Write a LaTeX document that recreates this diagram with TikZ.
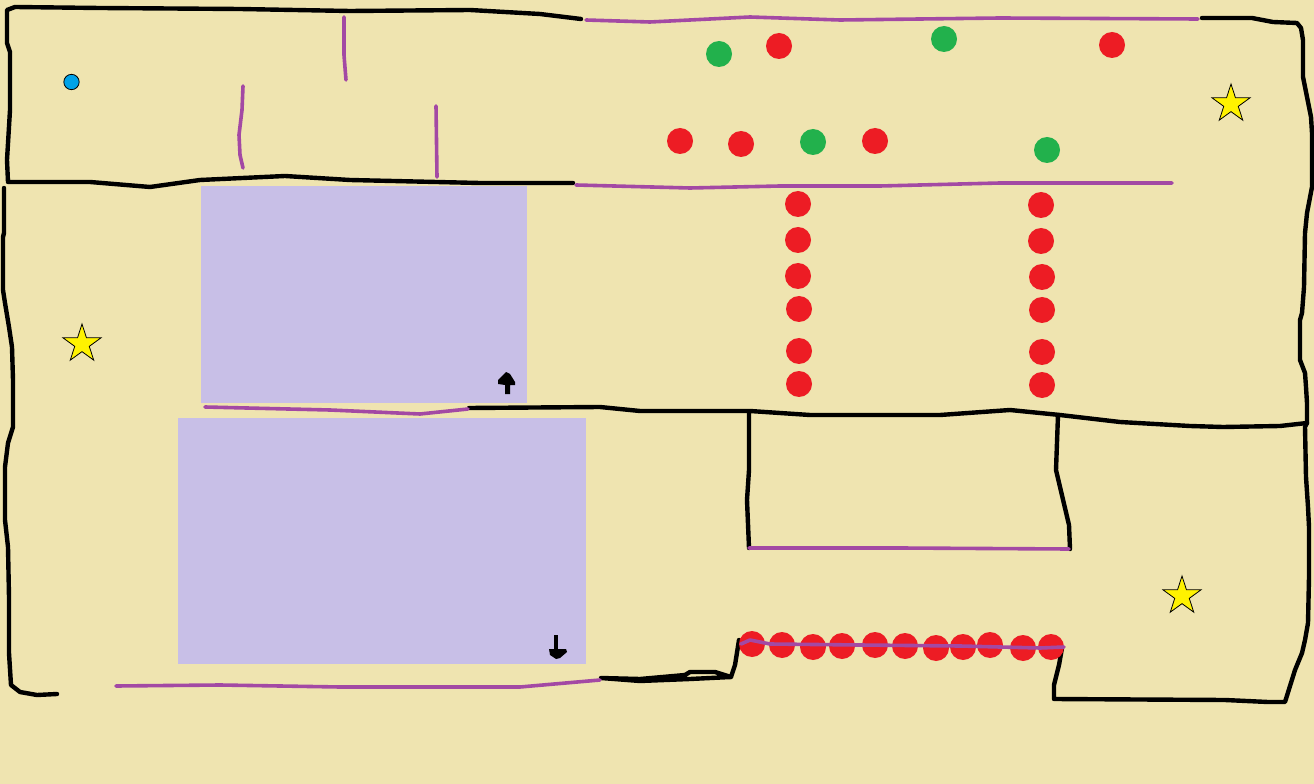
\documentclass[tikz,border=0pt]{standalone}
\usetikzlibrary{shapes.geometric}
\definecolor{bgc}{HTML}{EFE4B0}
\definecolor{lav}{HTML}{C8BFE7}
\definecolor{pur}{HTML}{A349A4}
\definecolor{redd}{HTML}{ED1C24}
\definecolor{grn}{HTML}{22B14C}
\definecolor{blu}{HTML}{00A2E8}
\definecolor{yel}{HTML}{FFF200}
\tikzset{
  wall/.style={draw=black,line width=3.3pt,line cap=round,line join=round},
  pline/.style={draw=pur,line width=2.7pt,line cap=round,line join=round},
  room/.style={fill=lav,draw=none},
  rdot/.style={circle,fill=redd,draw=none,minimum size=19.5pt,inner sep=0pt},
  gdot/.style={circle,fill=grn,draw=none,minimum size=19.5pt,inner sep=0pt},
  bdot/.style={circle,fill=blu,draw=black,line width=0.6pt,minimum size=11.5pt,inner sep=0pt},
  sstar/.style={star,star points=5,star point ratio=2.62,fill=yel,draw=black,line width=0.6pt,minimum size=30pt,inner sep=0pt}
}
\begin{document}
\begin{tikzpicture}[x=0.75pt,y=-0.75pt]
\useasboundingbox (0,0) rectangle (1314,784);
\fill[bgc] (0,0) rectangle (1314,784);
% rooms
\fill[room] (201,186) rectangle (527,403);
\fill[room] (178,418) rectangle (586,664);
% black walls
\draw[wall] (581,19) -- (540,14) -- (470,10) -- (350,11) -- (240,9) -- (100,8) -- (15,7) -- (7,10) -- (7,43) -- (10,52) -- (10,110) -- (7,160) -- (8,182) -- (90,182) -- (150,187) -- (200,180) -- (285,176) -- (350,180) -- (480,183) -- (573,183);
\draw[wall] (1202,18) -- (1252,18) -- (1273,22) -- (1297,23) -- (1301,28) -- (1303,40) -- (1303,77) -- (1307,97) -- (1311,117) -- (1312,133) -- (1312,187) -- (1307,213) -- (1305,233) -- (1304,287) -- (1302,313) -- (1300,320) -- (1300,360) -- (1305,373) -- (1306,387) -- (1307,403) -- (1307,423) -- (1305,427) -- (1306,477) -- (1308,507) -- (1309,527) -- (1309,577) -- (1308,623) -- (1305,640) -- (1302,653) -- (1295,670) -- (1285,702) -- (1268,702) -- (1225,700) -- (1054,699) -- (1054,685) -- (1059,665) -- (1062,648);
\draw[wall] (4,188) -- (4,233) -- (3,237) -- (3,290) -- (5,303) -- (9,327) -- (12,347) -- (13,380) -- (13,427) -- (8,443) -- (5,467) -- (5,520) -- (8,547) -- (9,597) -- (9,653) -- (11,685) -- (20,692) -- (37,695) -- (57,694);
\draw[wall] (469,408) -- (600,407) -- (640,411) -- (750,411) -- (810,415) -- (940,415) -- (1010,410) -- (1060,415) -- (1120,422) -- (1190,426) -- (1223,427) -- (1280,426) -- (1307,423);
\draw[wall] (749,412) -- (749,470) -- (747,500) -- (749,548);
\draw[wall] (1058,415) -- (1056,470) -- (1069,525) -- (1070,549);
\draw[wall] (601,678) -- (640,679) -- (685,675) -- (690,672) -- (715,672) -- (731,677) -- (690,679) -- (640,681) -- (601,678);
\draw[wall] (731,677) -- (735,665) -- (739,640);
% purple walls
\draw[pline] (586,20) -- (650,22) -- (750,17) -- (840,20) -- (1000,18) -- (1198,19);
\draw[pline] (344,17) -- (344,55) -- (346,80);
\draw[pline] (243,86) -- (242,110) -- (239,135) -- (240,155) -- (243,168);
\draw[pline] (436,106) -- (437,177);
\draw[pline] (576,185) -- (690,188) -- (780,186) -- (880,186) -- (1000,183) -- (1172,183);
\draw[pline] (205,407) -- (330,410) -- (420,414) -- (468,409);
\draw[pline] (749,548) -- (900,548) -- (1069,549);
\draw[pline] (116,686) -- (220,685) -- (340,687) -- (520,687) -- (600,680);
% dots
\foreach \n/\x/\y in {a/779/46,b/1112/45,c/680/141,d/741/144,e/875/141,
  f/798/204,g/798/240,h/798/276,i/799/309,j/799/351,k/799/384,
  l/1041/205,m/1041/241,n/1042/277,o/1042/310,p/1042/352,q/1042/385,
  r/752/644,s/782/645,t/813/647,u/842/646,v/875/645,w/905/646,x/936/648,y/963/647,z/990/645,aa/1023/648,ab/1051/647}
  \node[rdot] (r\n) at (\x,\y) {};
\foreach \n/\x/\y in {a/719/54,b/944/39,c/813/142,d/1047/150}
  \node[gdot] (g\n) at (\x,\y) {};
\node[bdot] (start) at (71.5,82) {};
\draw[pline] (741,644) -- (750,640) -- (770,644) -- (860,645) -- (960,646) -- (1040,648) -- (1064,647);
% stars
\node[sstar] (s1) at (1231,104) {};
\node[sstar] (s2) at (82,344) {};
\node[sstar] (s3) at (1182,596) {};
% arrows
\fill[black] (506,372) -- (510,374) -- (515,382) -- (515,385) -- (510,385) -- (510,394) -- (505,394) -- (505,385) -- (498,384) -- (498,380) -- cycle;
\draw[black,line width=2.5pt] (556,635) -- (556,650);
\fill[black] (549,649) -- (566,649) -- (567,652) -- (560,658) -- (556,659) -- (550,655) -- cycle;
\end{tikzpicture}
\end{document}
